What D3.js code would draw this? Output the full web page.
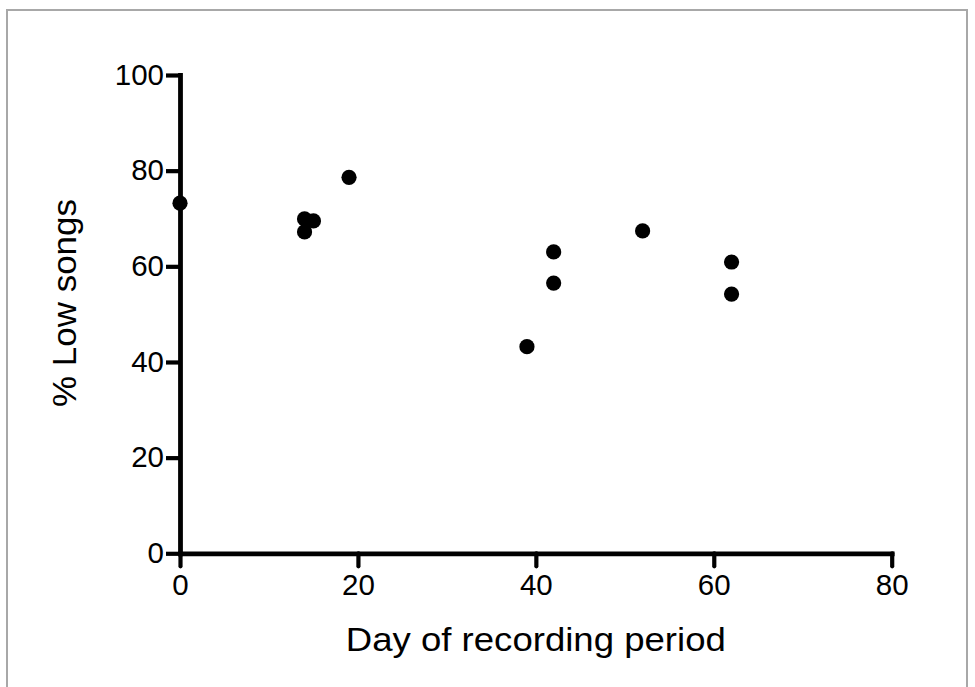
<!DOCTYPE html>
<html>
<head>
<meta charset="utf-8">
<script src="https://cdn.jsdelivr.net/npm/d3@7"></script>
<style>
  html, body { margin: 0; padding: 0; background: #fff; }
  svg { display: block; }
  text { font-family: "Liberation Sans", Arial, Helvetica, sans-serif; fill: #000; }
</style>
</head>
<body>
<script>
// Data
const days = [0, 14, 15, 14, 19, 39, 42, 42, 52, 62, 62];
const lowSongs = [73.2, 69.9, 69.5, 67.2, 78.6, 43.2, 63.0, 56.5, 67.4, 60.9, 54.2];
const xTicks = [0, 20, 40, 60, 80];
const yTicks = [0, 20, 40, 60, 80, 100];
const xTitle = "Day of recording period";
const yTitle = "% Low songs";

const W = 975, H = 687;
const svg = d3.select("body").append("svg").attr("width", W).attr("height", H);

// frame border
svg.append("path")
  .attr("d", `M7,${H + 5} L7,10 L967,10 L967,${H + 5}`)
  .attr("fill", "none").attr("stroke", "#a8a8a8").attr("stroke-width", 2);

const x = d3.scaleLinear().domain([0, 80]).range([180, 891.7]);
const y = d3.scaleLinear().domain([0, 100]).range([553.3, 75]);

// Y axis
const gy = svg.append("g").attr("transform", `translate(${x(0)},0)`)
  .call(d3.axisLeft(y).tickValues(yTicks).tickSizeInner(14).tickSizeOuter(0).tickPadding(2));
gy.select(".domain").attr("stroke", "#000").attr("stroke-width", 4.8).attr("stroke-linecap", "square");
gy.selectAll(".tick line").attr("stroke", "#000").attr("stroke-width", 4.2);
gy.selectAll(".tick text")
  .attr("x", -16).attr("dy", "0.31em")
  .style("font-size", "29.5px").style("font-family", "'Liberation Sans', Arial, sans-serif")
  .attr("fill", "#000");

// X axis
const gx = svg.append("g").attr("transform", `translate(0,${y(0)})`)
  .call(d3.axisBottom(x).tickValues(xTicks).tickSizeInner(13).tickSizeOuter(0));
gx.select(".domain").attr("stroke", "#000").attr("stroke-width", 4.8).attr("stroke-linecap", "square");
gx.selectAll(".tick line").attr("stroke", "#000").attr("stroke-width", 4.2).attr("stroke-linecap", "round");
gx.selectAll(".tick text")
  .attr("y", 41.7).attr("dy", "0")
  .style("font-size", "29.5px").style("font-family", "'Liberation Sans', Arial, sans-serif")
  .attr("fill", "#000");

// Points
svg.append("g").selectAll("circle")
  .data(days.map((d, i) => ({ d, v: lowSongs[i] })))
  .join("circle")
  .attr("cx", p => x(p.d))
  .attr("cy", p => y(p.v))
  .attr("r", 7.6)
  .attr("fill", "#000");

// Titles
svg.append("text")
  .attr("x", 535.8).attr("y", 650.7)
  .attr("text-anchor", "middle")
  .attr("textLength", 380).attr("lengthAdjust", "spacingAndGlyphs")
  .style("font-size", "34px")
  .text(xTitle);

svg.append("text")
  .attr("transform", "translate(76,303) rotate(-90)")
  .attr("text-anchor", "middle")
  .attr("textLength", 208).attr("lengthAdjust", "spacingAndGlyphs")
  .style("font-size", "34px")
  .text(yTitle);
</script>
</body>
</html>
